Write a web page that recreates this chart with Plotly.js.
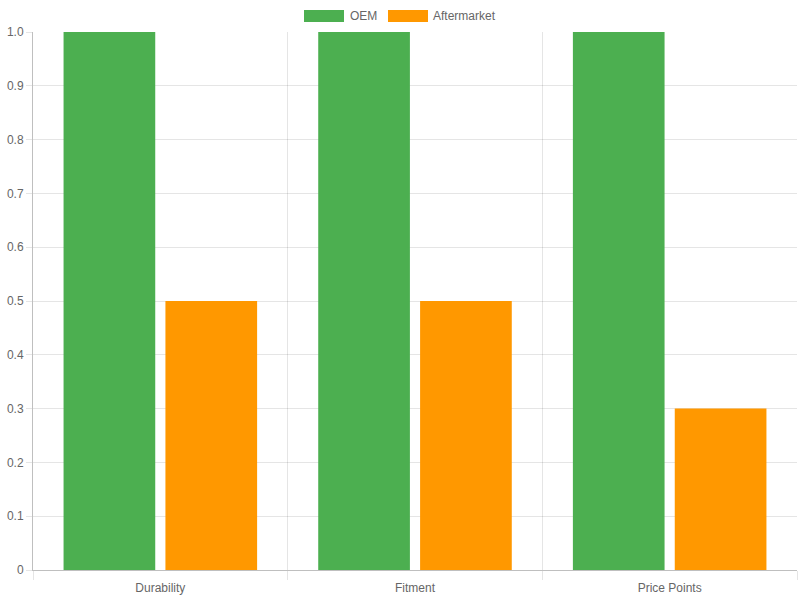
<!DOCTYPE html>
<html>
<head>
<meta charset="utf-8">
<script src="https://cdn.plot.ly/plotly-3.0.1.min.js"></script>
<style>
  html, body { margin: 0; padding: 0; background: #fff; }
  #chart { width: 800px; height: 600px; }
</style>
</head>
<body>
<div id="chart"></div>
<script>
const categories = ['Durability', 'Fitment', 'Price Points'];
const seriesNames = ['OEM', 'Aftermarket'];
const oemValues = [1, 1, 1];
const aftermarketValues = [0.5, 0.5, 0.3];
const yTickVals = [0, 0.1, 0.2, 0.3, 0.4, 0.5, 0.6, 0.7, 0.8, 0.9, 1.0];
const yTickText = ['0', '0.1', '0.2', '0.3', '0.4', '0.5', '0.6', '0.7', '0.8', '0.9', '1.0'];

const colors = ['#4CAF50', '#FF9800'];
const textColor = '#666';
const gridColor = 'rgba(0,0,0,0.1)';
const axisColor = 'rgba(0,0,0,0.25)';

// chart.js-like legend boxes (40x12) drawn above the plot, in paper units
const plotW = 764, plotH = 538;
const legendLeft = [304, 388];   // px from left edge of the page
const textLeft = [348, 431];
function px(x) { return (x - 33) / plotW; }
function py(y) { return (570 - y) / plotH; }

const shapes = [];
const annotations = [];
seriesNames.forEach((name, i) => {
    shapes.push({
        type: 'rect', xref: 'paper', yref: 'paper',
        x0: px(legendLeft[i]), x1: px(legendLeft[i] + 40),
        y0: py(22), y1: py(10),
        fillcolor: colors[i], line: { width: 0 }
    });
    annotations.push({
        xref: 'paper', yref: 'paper',
        x: px(textLeft[i]), y: py(16),
        xanchor: 'left', yanchor: 'middle',
        text: name, showarrow: false,
        font: { size: 12, color: textColor }
    });
});

Plotly.newPlot('chart', [{
    x: categories,
    y: oemValues,
    type: 'bar',
    name: seriesNames[0],
    marker: { color: colors[0] },
    hoverinfo: 'x+y'
}, {
    x: categories,
    y: aftermarketValues,
    type: 'bar',
    name: seriesNames[1],
    marker: { color: colors[1] },
    hoverinfo: 'x+y'
}], {
    width: 800,
    height: 600,
    margin: { t: 32, b: 30, l: 33, r: 3 },
    barmode: 'group',
    bargap: 0.2,
    bargroupgap: 0.1,
    paper_bgcolor: '#fff',
    plot_bgcolor: '#fff',
    font: { family: 'Liberation Sans, Arial, sans-serif', size: 12, color: textColor },
    showlegend: false,
    shapes: shapes,
    annotations: annotations,
    xaxis: {
        type: 'category',
        tickson: 'boundaries',
        ticks: 'outside',
        ticklen: 9,
        tickcolor: gridColor,
        ticklabelstandoff: 7,
        showgrid: true,
        gridcolor: gridColor,
        showline: true,
        linecolor: axisColor,
        zeroline: false,
        tickfont: { size: 12, color: textColor }
    },
    yaxis: {
        range: [0, 1],
        tickvals: yTickVals,
        ticktext: yTickText,
        ticks: 'outside',
        ticklen: 6,
        tickcolor: gridColor,
        showgrid: true,
        gridcolor: gridColor,
        showline: true,
        linecolor: axisColor,
        zeroline: false,
        tickfont: { size: 12, color: textColor }
    }
}, { displayModeBar: false });
</script>
</body>
</html>
